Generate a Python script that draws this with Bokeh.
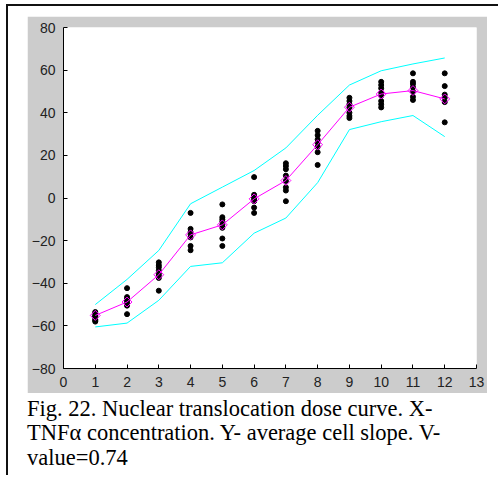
from bokeh.plotting import figure
from bokeh.models import Range1d, FixedTicker, Div, ColumnDataSource
from bokeh.layouts import column
from bokeh.embed import file_html
from bokeh.resources import INLINE
import math

# ---- data ----
doses = [1, 2, 3, 4, 5, 6, 7, 8, 9, 10, 11, 12]
mean_slope = [-55.1, -48.8, -36.0, -17.3, -12.6, -0.4, 8.2, 25.0, 42.6, 48.8, 50.4, 46.5]
upper_band = [-50.0, -38.2, -24.6, -2.7, 5.1, 12.9, 23.5, 38.8, 53.0, 59.7, 62.9, 65.7]
lower_band = [-60.5, -58.7, -48.0, -32.1, -30.4, -16.5, -9.4, 7.2, 32.1, 35.8, 38.7, 28.8]

cells_1 = [-53.5, -54.0, -55.0, -55.5, -56.0, -57.0, -57.5, -58.0]
cells_2 = [-42.3, -46.5, -47.5, -48.5, -49.5, -50.5, -54.5]
cells_3 = [-30.2, -31.5, -32.5, -34.0, -35.5, -36.5, -37.5, -43.5]
cells_4 = [-7.0, -14.5, -16.0, -17.0, -18.5, -22.5, -24.5]
cells_5 = [-3.0, -9.0, -10.0, -11.0, -12.5, -14.0, -19.0, -22.5]
cells_6 = [9.8, 1.5, 0.5, -0.5, -1.5, -4.5, -7.0]
cells_7 = [16.3, 15.0, 13.5, 10.5, 8.0, 5.0, 3.5, -1.5]
cells_8 = [31.5, 29.5, 27.5, 26.0, 24.0, 21.5, 15.5]
cells_9 = [47.0, 45.5, 44.0, 42.5, 40.0, 38.5, 37.5]
cells_10 = [54.5, 53.0, 51.5, 49.5, 48.0, 45.5, 44.0, 42.5]
cells_11 = [58.5, 54.5, 53.5, 52.0, 50.0, 47.5, 46.0]
cells_12 = [58.5, 52.5, 48.5, 47.0, 45.0, 35.5]

x_ticks = list(range(0, 14))
y_ticks = [-80, -60, -40, -20, 0, 20, 40, 60, 80]

caption_lines = [
    "Fig. 22. Nuclear translocation dose curve. X-",
    "TNF\u03b1 concentration. Y- average cell slope. V-",
    "value=0.74",
]

# ---- build sources ----
all_cells = [cells_1, cells_2, cells_3, cells_4, cells_5, cells_6,
             cells_7, cells_8, cells_9, cells_10, cells_11, cells_12]
dot_x, dot_y = [], []
for d, ys in zip(doses, all_cells):
    for yv in ys:
        dot_x.append(d)
        dot_y.append(yv)
dots = ColumnDataSource(dict(x=dot_x, y=dot_y))
curve = ColumnDataSource(dict(x=doses, mean=mean_slope, up=upper_band, lo=lower_band))

p = figure(width=460, height=377,
           x_range=Range1d(0, 13), y_range=Range1d(-80, 80),
           output_backend="svg", toolbar_location=None,
           min_border_left=36, min_border_right=11,
           min_border_top=11, min_border_bottom=25,
           border_fill_color="#cccccc", background_fill_color="white",
           outline_line_color=None, margin=(10, 0, 0, 19))

p.line("x", "up", source=curve, line_color="#00ffff", line_width=1)
p.line("x", "lo", source=curve, line_color="#00ffff", line_width=1)
p.scatter("x", "y", source=dots, marker="circle", size=5,
          fill_color="black", line_color="black")
p.line("x", "mean", source=curve, line_color="#ff00ff", line_width=1)
p.scatter("x", "mean", source=curve, marker="square", angle=math.pi / 4,
          size=7, fill_color=None, line_color="#ff00ff", line_width=1)

p.xgrid.grid_line_color = None
p.ygrid.grid_line_color = None
p.xaxis.ticker = FixedTicker(ticks=x_ticks)
p.yaxis.ticker = FixedTicker(ticks=y_ticks)
for ax in (p.xaxis[0], p.yaxis[0]):
    ax.major_tick_in = 4
    ax.major_tick_out = 0
    ax.minor_tick_line_color = None
    ax.axis_line_color = "black"
    ax.major_tick_line_color = "black"
    ax.major_label_text_font = "Liberation Sans"
    ax.major_label_text_font_size = "14px"
    ax.major_label_text_color = "#222222"
    ax.major_label_standoff = 8

cap = Div(text="<br>".join(caption_lines), width=471, height=78,
          margin=(4, 0, 0, 19),
          styles={"font-family": "'Liberation Serif', 'Times New Roman', serif",
                  "font-size": "22.5px", "line-height": "24.3px",
                  "color": "black", "white-space": "nowrap"})

root = column(p, cap, width=492,
              styles={"margin-left": "6px", "margin-top": "4px",
                      "border-left": "2px solid #111",
                      "border-top": "2px solid #111",
                      "border-right": "0px none white",
                      "border-bottom": "0px none white"})

open("out.html", "w").write(file_html(root, INLINE))
